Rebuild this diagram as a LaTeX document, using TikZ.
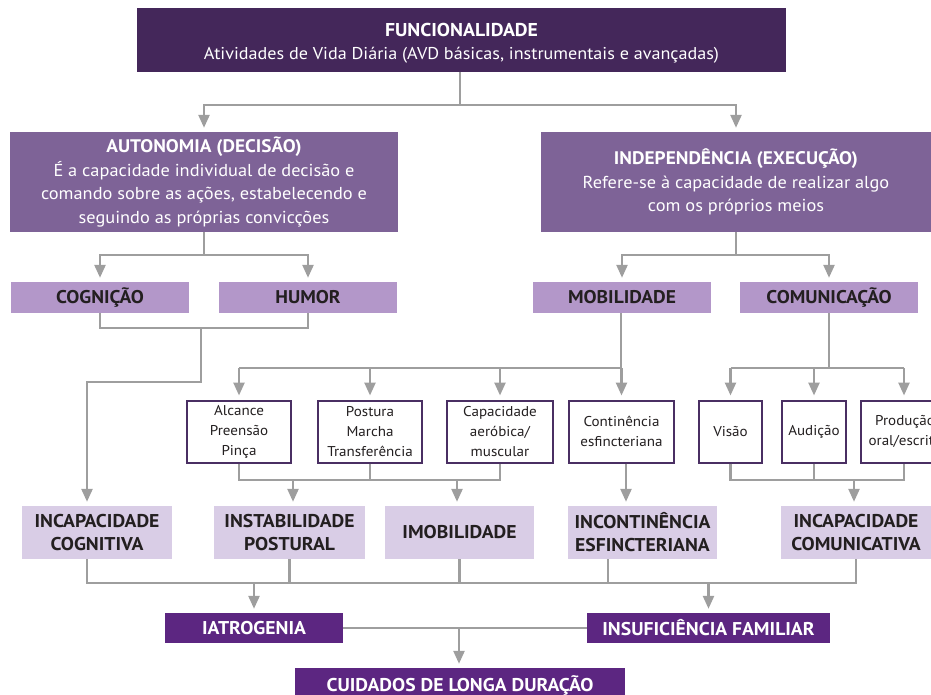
\documentclass[tikz,border=0pt]{standalone}
\usepackage{fontspec}
\setmainfont{PT Sans}
\newfontfamily\wde[FakeStretch=1.06]{PT Sans}
\usetikzlibrary{arrows.meta}
\definecolor{topc}{HTML}{44275A}
\definecolor{midc}{HTML}{7E6397}
\definecolor{lvlc}{HTML}{B397C9}
\definecolor{lowc}{HTML}{D9CDE6}
\definecolor{botc}{HTML}{5C2681}
\definecolor{bordc}{HTML}{4A2F63}
\definecolor{linec}{HTML}{9E9E9E}
\definecolor{darkt}{HTML}{231F20}
\begin{document}
\begin{tikzpicture}[x=1pt,y=-1pt,
  box/.style={rectangle, inner sep=0pt, align=center},
  topbox/.style={box, fill=topc, text=white, font=\wde\fontsize{17.1}{23}\selectfont},
  midbox/.style={box, fill=midc, text=white, font=\wde\fontsize{17.3}{23.5}\selectfont},
  lvlbox/.style={box, fill=lvlc, text=darkt, font=\wde\bfseries\fontsize{18.4}{20}\selectfont, minimum width=178pt, minimum height=31pt},
  smallbox/.style={box, fill=white, draw=bordc, line width=2pt, text=darkt, font=\wde\fontsize{14.2}{20}\selectfont, minimum height=62pt},
  lowbox/.style={box, fill=lowc, text=darkt, font=\wde\bfseries\fontsize{18.5}{23}\selectfont, minimum height=53pt},
  botbox/.style={box, fill=botc, text=white, font=\wde\bfseries\fontsize{18.5}{20}\selectfont, minimum height=30pt},
  conn/.style={draw=linec, line width=2.5pt},
  arr/.style={conn, -{Triangle[width=11pt,length=13pt]}, shorten >=4pt}
]
\useasboundingbox (0,0) rectangle (931,695);
\clip (0,0) rectangle (931,695);

% level 1
\node[topbox, minimum width=649pt, minimum height=64pt] (top) at (461.5,40) {};
\node[topbox] (toptext) at (461.5,43)
  {{\fontsize{18.6}{23}\selectfont\bfseries FUNCIONALIDADE}\\Atividades de Vida Diária (AVD básicas, instrumentais e avançadas)};

% level 2
\node[midbox, minimum width=388pt, minimum height=100pt] (auto) at (204,182)
  {{\fontsize{18.2}{23.5}\selectfont\bfseries AUTONOMIA (DECISÃO)}\\É a capacidade individual de decisão e\\comando sobre as ações, estabelecendo e\\seguindo as próprias convicções};
\node[midbox, minimum width=390pt, minimum height=100pt] (indep) at (736,182)
  {{\fontsize{18.2}{23.5}\selectfont\bfseries INDEPENDÊNCIA (EXECUÇÃO)}\\Refere-se à capacidade de realizar algo\\com os próprios meios};

% level 3
\node[lvlbox] (cog) at (100,297.5) {COGNIÇÃO};
\node[lvlbox] (humor) at (308,297.5) {HUMOR};
\node[lvlbox] (mob) at (622,297.5) {MOBILIDADE};
\node[lvlbox] (comu) at (829,297.5) {COMUNICAÇÃO};

% level 4
\node[smallbox, minimum width=104pt] (alc) at (239,431.5) {Alcance\\Preensão\\Pinça};
\node[smallbox, minimum width=104pt] (post) at (370,431.5) {Postura\\Marcha\\Transferência};
\node[smallbox, minimum width=106pt] (cap) at (500,431.5) {Capacidade\\aeróbica/\\muscular};
\node[smallbox, minimum width=105pt] (cont) at (621.5,431.5) {Continência\\esfincteriana};
\node[smallbox, minimum width=63pt] (vis) at (730.5,431.5) {Visão};
\node[smallbox, minimum width=64pt] (aud) at (814,431.5) {Audição};
\node[smallbox, minimum width=88pt] (prod) at (905,431.5) {Produção\\oral/escrita};

% level 5
\node[lowbox, minimum width=150pt] (incog) at (97,532.5) {INCAPACIDADE\\COGNITIVA};
\node[lowbox, minimum width=151pt] (instab) at (289.5,532.5) {INSTABILIDADE\\POSTURAL};
\node[lowbox, minimum width=149pt] (imob) at (459.5,532.5) {IMOBILIDADE};
\node[lowbox, minimum width=149pt] (incont) at (642.5,532.5) {INCONTINÊNCIA\\ESFINCTERIANA};
\node[lowbox, minimum width=150pt] (incomu) at (856,532.5) {INCAPACIDADE\\COMUNICATIVA};

% level 6
\node[botbox, minimum width=178pt] (iat) at (254,628) {IATROGENIA};
\node[botbox, minimum width=243pt] (insuf) at (708.5,628) {INSUFICIÊNCIA FAMILIAR};
\node[botbox, minimum width=330pt, minimum height=34pt] (cuid) at (460,685) {CUIDADOS DE LONGA DURAÇÃO};

% junction coordinates
\coordinate (j1) at (460,105);
\coordinate (j2) at (204,255);
\coordinate (j3) at (736,255);
\coordinate (chm) at (201,328);
\coordinate (chb) at (201,382);
\coordinate (mj) at (621,368);
\coordinate (cj) at (829,368);
\coordinate (sj) at (0,480);
\coordinate (bj) at (0,583);
\coordinate (fj) at (459,628);

% connectors level 1 -> 2
\draw[conn] (top.south -| j1) -- (j1);
\draw[arr] (j1) -| (auto.north);
\draw[arr] (j1) -| (indep.north);

% level 2 -> 3
\draw[conn] (auto.south) -- (j2);
\draw[arr] (j2) -| (cog.north);
\draw[arr] (j2) -| (humor.north);
\draw[conn] (indep.south) -- (j3);
\draw[arr] (j3) -| (mob.north);
\draw[arr] (j3) -| (comu.north);

% cognição/humor -> incapacidade cognitiva
\draw[conn] (cog.south) |- (chm) -| (humor.south);
\draw[arr] (chm) -- (chb) -| ([xshift=-10pt]incog.north);

% mobilidade -> small boxes
\draw[conn] (mob.south -| mj) -- (mj) -- (alc.north |- mj);
\draw[arr] (alc.north |- mj) -- (alc.north);
\draw[arr] (post.north |- mj) -- (post.north);
\draw[arr] (cap.north |- mj) -- (cap.north);
\draw[arr] (cont.north |- mj) -- (cont.north);

% comunicação -> small boxes
\draw[conn] (comu.south) -- (cj);
\draw[conn] (vis.north |- cj) -- ([xshift=-1pt]prod.north |- cj);
\draw[arr] (vis.north |- cj) -- (vis.north);
\draw[arr] (aud.north |- cj) -- (aud.north);
\draw[arr] ([xshift=-1pt]prod.north |- cj) -- ([xshift=-1pt]prod.north);

% small boxes -> level 5
\draw[conn] (alc.south) -- (alc.south |- sj) -- (cap.south |- sj) -- (cap.south);
\draw[conn] (post.south) -- (post.south |- sj);
\draw[arr] ([xshift=3.5pt]instab.north |- sj) -- ([xshift=3.5pt]instab.north);
\draw[arr] ([xshift=-2.5pt]imob.north |- sj) -- ([xshift=-2.5pt]imob.north);
\draw[arr] ([xshift=4.5pt]cont.south) -- ([xshift=-16.5pt]incont.north);
\draw[conn] (vis.south) -- (vis.south |- sj) -- ([xshift=-1pt]prod.south |- sj) -- ([xshift=-1pt]prod.south);
\draw[conn] (aud.south) -- (aud.south |- sj);
\draw[arr] ([xshift=-2pt]incomu.north |- sj) -- ([xshift=-2pt]incomu.north);

% level 5 -> level 6
\draw[conn] ([xshift=-10pt]incog.south) -- ([xshift=-10pt]incog.south |- bj) -- (incomu.south |- bj) -- (incomu.south);
\draw[conn] (instab.south) -- (instab.south |- bj);
\draw[conn] (imob.south) -- (imob.south |- bj);
\draw[conn] ([xshift=-34.5pt]incont.south) -- ([xshift=-34.5pt]incont.south |- bj);
\draw[arr] (iat.north |- bj) -- (iat.north);
\draw[arr] (insuf.north |- bj) -- (insuf.north);

% level 6 -> final
\draw[conn] (iat.east) -- (insuf.west);
\draw[arr] (fj) -- (cuid.north -| fj);
\end{tikzpicture}
\end{document}
